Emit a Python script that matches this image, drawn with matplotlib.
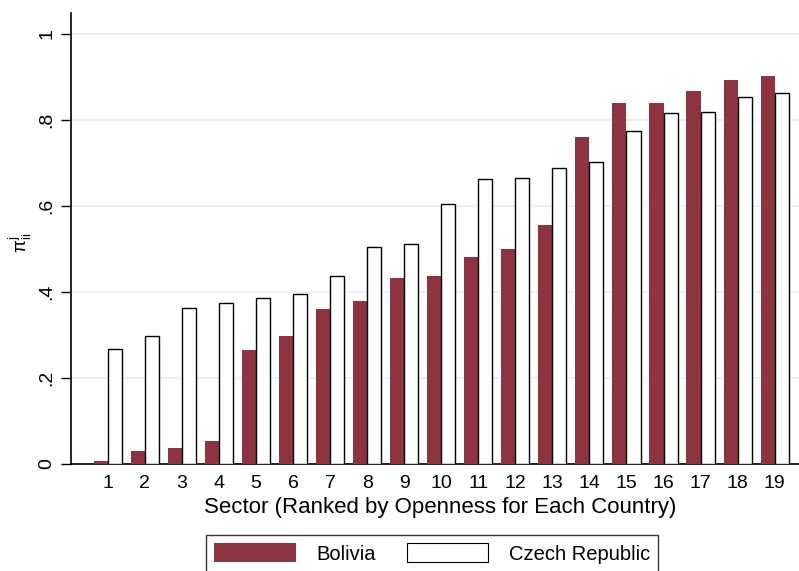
import matplotlib
matplotlib.use("Agg")
import matplotlib.pyplot as plt
from matplotlib.patches import Patch
import numpy as np

plt.rcParams['font.family'] = ['Liberation Sans', 'DejaVu Sans']
plt.rcParams['mathtext.fontset'] = 'custom'
plt.rcParams['mathtext.rm'] = 'Liberation Sans'
plt.rcParams['mathtext.it'] = 'Liberation Sans'

sectors = list(range(1, 20))
bolivia = [0.006, 0.030, 0.036, 0.052, 0.265, 0.297, 0.359, 0.378, 0.431, 0.437,
           0.481, 0.499, 0.556, 0.760, 0.839, 0.839, 0.867, 0.893, 0.903]
czech = [0.266, 0.297, 0.362, 0.374, 0.386, 0.395, 0.437, 0.505, 0.511, 0.604,
         0.662, 0.664, 0.687, 0.701, 0.775, 0.817, 0.818, 0.854, 0.863]
yticks = [0, 0.2, 0.4, 0.6, 0.8, 1.0]
ytick_labels = ['0', '.2', '.4', '.6', '.8', '1']

bolivia_color = '#8e3440'
W, H = 799, 571
fig = plt.figure(figsize=(W / 100, H / 100), dpi=100)
ax_left, ax_bottom, ax_top = 70.7, 463.7, 13.0
ax = fig.add_axes([ax_left / W, (H - ax_bottom) / H, (W - ax_left) / W, (ax_bottom - ax_top) / H])

x = np.array(sectors, dtype=float)
bw = 0.38
ax.bar(x - bw / 2, bolivia, width=bw, color=bolivia_color, edgecolor='none', zorder=3)
ax.bar(x + bw / 2, czech, width=bw, color='white', edgecolor='black', linewidth=1.0, zorder=3)

ax.set_xlim(0, (W - ax_left) / 37.05)
ax.set_ylim(0, (ax_bottom - ax_top) / 429.7)
ax.set_xticks(sectors)
ax.set_xticklabels([str(s) for s in sectors], fontsize=14)
ax.tick_params(axis='x', length=0, pad=8)
ax.set_yticks(yticks)
ax.set_yticklabels(ytick_labels, fontsize=14, rotation=90, va='center')
ax.tick_params(axis='y', length=7, width=1, direction='out', pad=4)
ax.yaxis.grid(True, color='#e8f0f2', linewidth=1.2, zorder=0)
ax.set_axisbelow(True)

for side in ('top', 'right'):
    ax.spines[side].set_visible(False)
for side in ('left', 'bottom'):
    ax.spines[side].set_linewidth(1.2)

ax.set_xlabel('Sector (Ranked by Openness for Each Country)', fontsize=16, labelpad=4)
ax.xaxis.label.set_x((440 - ax_left) / (W - ax_left))
ax.set_ylabel(r'$\mathrm{\pi}_{\mathrm{ii}}^{\mathrm{j}}$', fontsize=13.5)
ax.yaxis.set_label_coords((34 - ax_left) / (W - ax_left), 0.49)

handles = [Patch(facecolor=bolivia_color, edgecolor='none', label='Bolivia'),
           Patch(facecolor='white', edgecolor='black', linewidth=0.8, label='Czech Republic')]
leg = fig.legend(handles=handles, loc='upper left', ncol=2,
                 bbox_to_anchor=(206 / W, (H - 535) / H), borderaxespad=0,
                 fontsize=14.5, frameon=True, fancybox=False, edgecolor='black',
                 handlelength=4.05, handleheight=1.05, columnspacing=1.55,
                 handletextpad=1.0, borderpad=0.42)
leg.get_frame().set_linewidth(1.0)

fig.savefig('out.png', dpi=100)
